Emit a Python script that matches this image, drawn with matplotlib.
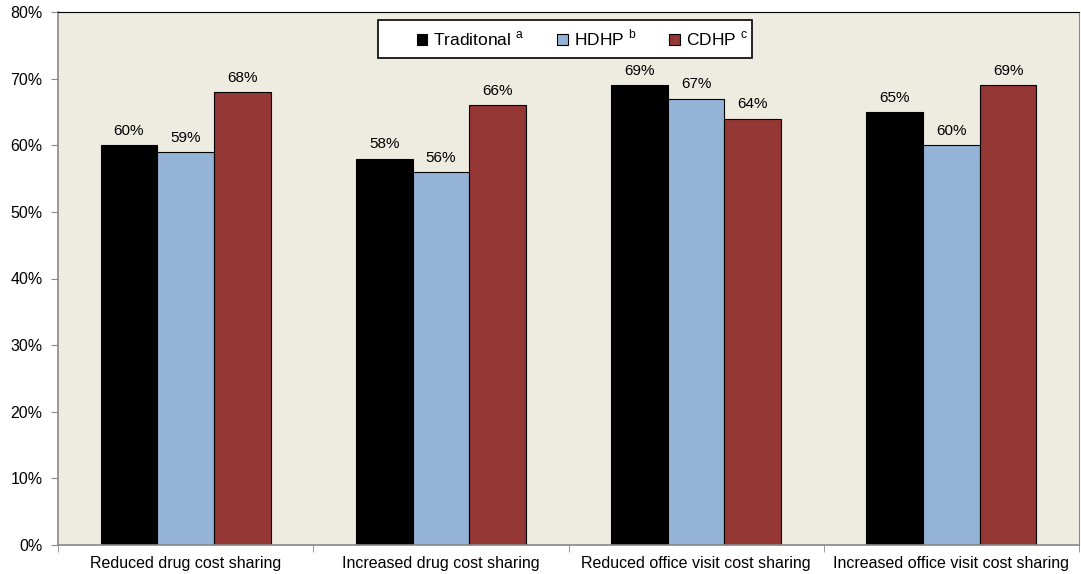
import matplotlib.pyplot as plt
import matplotlib.patches as mpatches
import numpy as np

plt.rcParams['font.family'] = ['Liberation Sans', 'DejaVu Sans']

categories = ['Reduced drug cost sharing', 'Increased drug cost sharing',
              'Reduced office visit cost sharing', 'Increased office visit cost sharing']
series = ['Traditonal', 'HDHP', 'CDHP']
marks = ['a', 'b', 'c']
traditional = [60, 58, 69, 65]
hdhp = [59, 56, 67, 60]
cdhp = [68, 66, 64, 69]
colors = ['#000000', '#95B3D7', '#953735']

W, H = 1081, 574
fig = plt.figure(figsize=(W / 100, H / 100), dpi=100)
ax = fig.add_axes([58 / W, 29 / H, 1021 / W, 533 / H])
ax.set_facecolor('#EEEBE0')

x = np.arange(len(categories))
w = 0.222
for i, (vals, col) in enumerate(zip([traditional, hdhp, cdhp], colors)):
    pos = x + (i - 1) * w
    ax.bar(pos, vals, w, color=col, edgecolor='black', linewidth=0.8,
           label=f'{series[i]} $^{{\\mathregular{{{marks[i]}}}}}$', zorder=2)
    for px, v in zip(pos, vals):
        ax.text(px, v + 1.1, f'{v}%', ha='center', va='bottom', fontsize=11)

ax.set_xlim(-0.5, len(categories) - 0.5)
ax.set_ylim(0, 80)
ax.set_yticks(range(0, 81, 10))
ax.set_yticklabels([f'{t}%' for t in range(0, 81, 10)], fontsize=11.5)
ax.set_xticks(x)
ax.set_xticklabels(categories, fontsize=11.5)
ax.set_xticks(np.arange(-0.5, len(categories)), minor=True)
ax.tick_params(axis='x', which='major', length=0, pad=8)
ax.tick_params(axis='x', which='minor', length=5, color='#888888')
ax.tick_params(axis='y', length=5, color='#888888', pad=6)

for s in ['left', 'bottom']:
    ax.spines[s].set_color('#888888')
    ax.spines[s].set_linewidth(1.2)
ax.spines['top'].set_color('black')
ax.spines['right'].set_color('#888888')

# legend box (Excel style, wider than its entries)
box = mpatches.Rectangle((378 / W, 1 - 58 / H), 374 / W, 38 / H,
                         transform=fig.transFigure, facecolor='white',
                         edgecolor='black', linewidth=1.2, zorder=5)
fig.patches.append(box)
leg = fig.legend(*ax.get_legend_handles_labels(), loc='center left',
                 bbox_to_anchor=(417 / W, 1 - 38 / H), ncol=3, frameon=False,
                 fontsize=12.5, handlelength=0.6, handleheight=0.6,
                 handletextpad=0.35, columnspacing=1.9, borderpad=0,
                 borderaxespad=0)
leg.set_zorder(6)

fig.savefig('out.png', dpi=100)
